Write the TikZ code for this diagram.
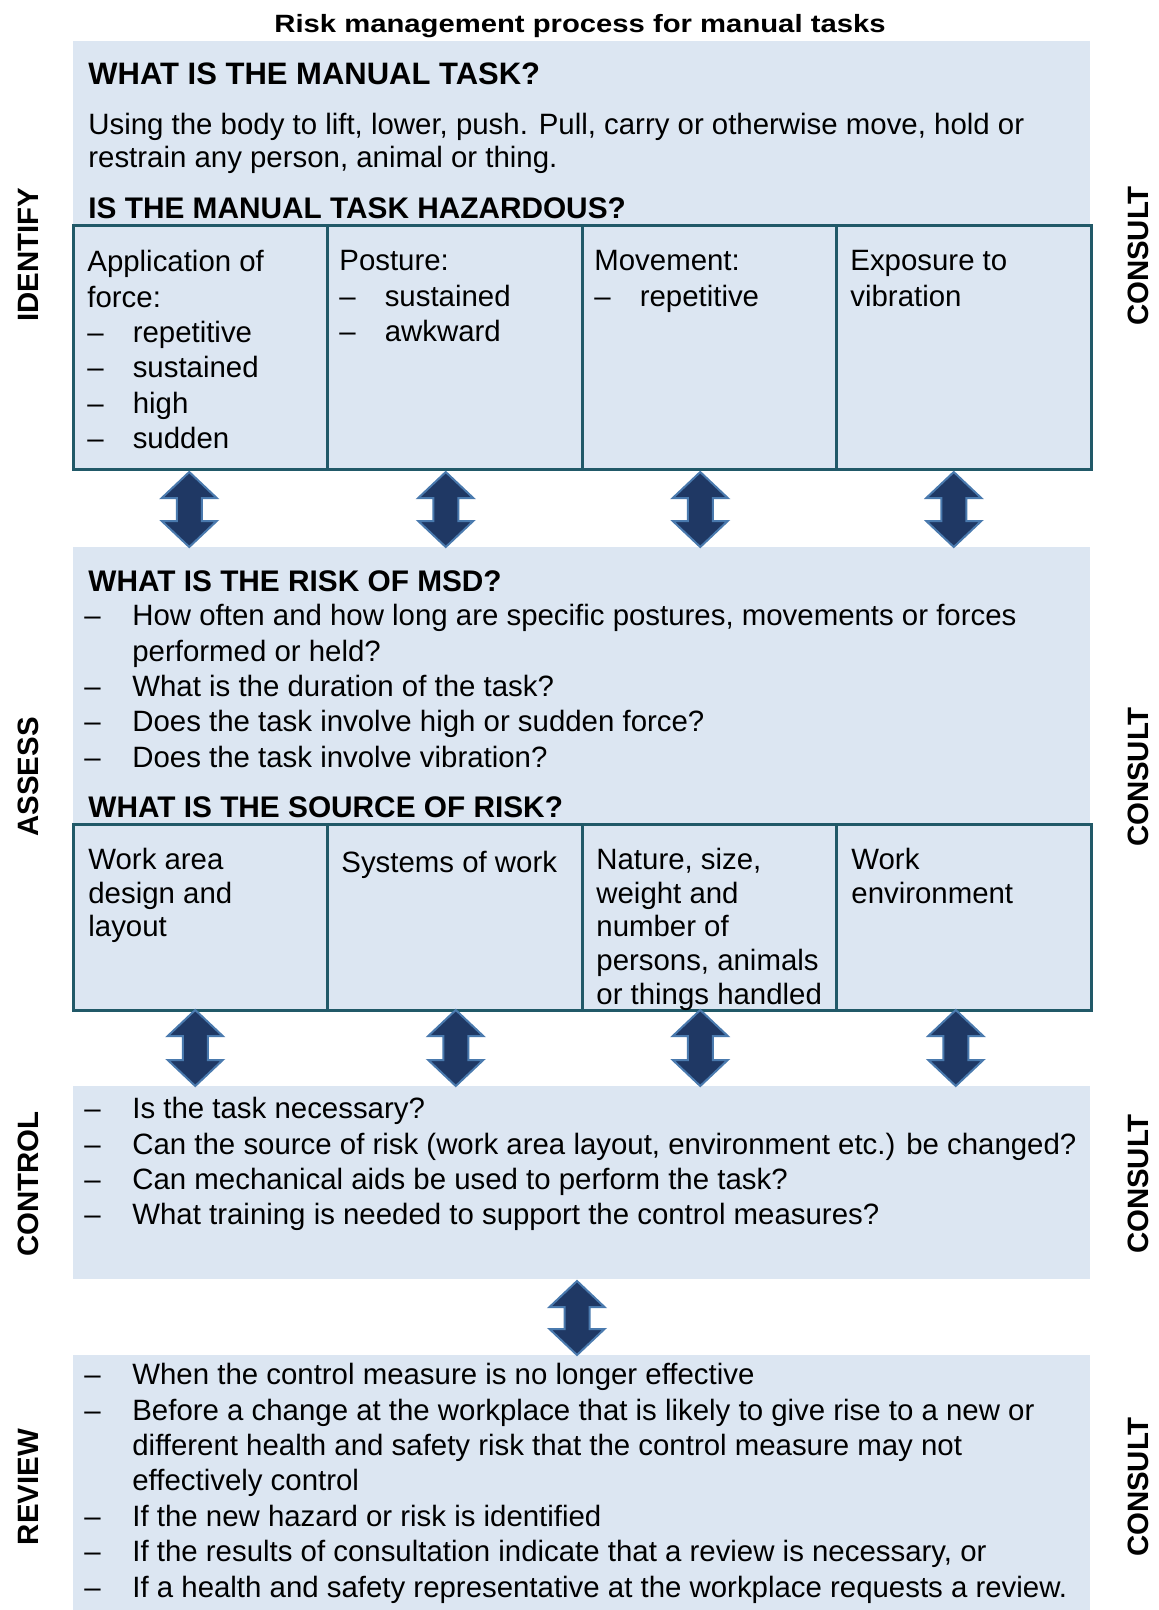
\documentclass[tikz,border=0pt]{standalone}
\usepackage{fontspec}
\setmainfont{Liberation Sans}
\usetikzlibrary{positioning}
\usetikzlibrary{calc}
\definecolor{panelblue}{HTML}{DCE6F2}
\definecolor{cellline}{HTML}{215968}
\definecolor{arrowfill}{HTML}{1F3864}
\definecolor{arrowline}{HTML}{4A7AAE}
\newcommand\bodyfont{\fontsize{14.7}{17.7}\selectfont}
\newcommand\dsh{\makebox[24pt][l]{–}}
\newcommand\cdsh{\makebox[22.7pt][l]{–}}
\newcommand\hang{\hspace*{24pt}}
% double headed block arrow from tip #1 down to tip #2
\newcommand\updown[2]{%
  \filldraw[bigarrow] (#1) -- ++(27.5,26) -- ++(-15,0) -- ($(#2)+(12.5,-26)$)
    -- ++(15,0) -- (#2) -- ++(-27.5,-26) -- ++(15,0) -- ($(#1)+(-12.5,26)$)
    -- ++(-15,0) -- cycle;}
\tikzset{
    panel/.style = {rectangle, fill=panelblue, inner sep=0, outer sep=0, minimum width=508.5pt, anchor=north west},
    cell/.style = {rectangle, draw=cellline, line width=1.5pt, fill=panelblue, inner sep=0, outer sep=0, minimum width=127.25pt, anchor=north west},
    txt/.style = {align=left, anchor=north west, yshift=12pt, inner sep=0, font=\bodyfont,
                  execute at begin node={\rule{0pt}{12pt}}},
    srctxt/.style = {txt, font=\fontsize{14.7}{16.8}\selectfont},
    head/.style = {txt, font=\fontsize{14.9}{17.7}\selectfont\bfseries},
    side/.style = {rotate=90, inner sep=0, font=\bodyfont\bfseries},
    bigarrow/.style = {fill=arrowfill, draw=arrowline, line width=1pt, line join=miter}
}
\begin{document}
\begin{tikzpicture}[x=0.5pt, y=-0.5pt]
  \useasboundingbox (0,0) rectangle (1158,1610);

  \node[anchor=base, inner sep=0] (title) at (580,33)
    {\scalebox{1.17}[1]{\fontsize{12.5}{15}\selectfont\bfseries Risk management process for manual tasks}};

  % panels
  \node[panel, minimum height=214.5pt] (identify) at (73,41) {};
  \node[panel, minimum height=231.5pt] (assess) at (73,547) {};
  \node[panel, minimum height=96.5pt] (control) at (73,1086) {};
  \node[panel, minimum height=127.5pt] (review) at (73,1355) {};

  % identify
  \node[head, font=\fontsize{15.5}{17.7}\selectfont\bfseries] (q1) at (88,84) {WHAT IS THE MANUAL TASK?};
  \node[txt, font=\fontsize{14.7}{16.6}\selectfont] (def) at (88,137) {Using the body to lift, lower, push. Pull, carry or otherwise move, hold or\\
    restrain any person, animal or thing.};
  \node[head] (q2) at (88,218) {IS THE MANUAL TASK HAZARDOUS?};
  \node[cell, minimum height=121.5pt] (hz1) at (73,226) {};
  \node[cell, minimum height=121.5pt, right=0pt of hz1] (hz2) {};
  \node[cell, minimum height=121.5pt, right=0pt of hz2] (hz3) {};
  \node[cell, minimum height=121.5pt, right=0pt of hz3] (hz4) {};
  \node[txt] (force) at (87,274) {Application of\\force:\\\cdsh repetitive\\\cdsh sustained\\\cdsh high\\\cdsh sudden};
  \node[txt] (posture) at (339,274) {Posture:\\\cdsh sustained\\\cdsh awkward};
  \node[txt] (movement) at (594,274) {Movement:\\\cdsh repetitive};
  \node[txt] (vibration) at (850,274) {Exposure to\\vibration};

  % assess
  \node[head] (q3) at (88,591) {WHAT IS THE RISK OF MSD?};
  \node[txt] (msd) at (84,628) {\dsh How often and how long are specific postures, movements or forces\\
    \hang performed or held?\\
    \dsh What is the duration of the task?\\
    \dsh Does the task involve high or sudden force?\\
    \dsh Does the task involve vibration?};
  \node[head] (q4) at (88,817) {WHAT IS THE SOURCE OF RISK?};
  \node[cell, minimum height=93pt] (src1) at (73,824) {};
  \node[cell, minimum height=93pt, right=0pt of src1] (src2) {};
  \node[cell, minimum height=93pt, right=0pt of src2] (src3) {};
  \node[cell, minimum height=93pt, right=0pt of src3] (src4) {};
  \node[srctxt] (layout) at (88,872) {Work area\\design and\\layout};
  \node[srctxt] (systems) at (341,872) {Systems of work};
  \node[srctxt] (loads) at (596,872) {Nature, size,\\weight and\\number of\\persons, animals\\or things handled};
  \node[srctxt] (environ) at (851,872) {Work\\environment};

  % control
  \node[txt] (ctrl) at (84,1121) {\dsh Is the task necessary?\\
    \dsh Can the source of risk (work area layout, environment etc.) be changed?\\
    \dsh Can mechanical aids be used to perform the task?\\
    \dsh What training is needed to support the control measures?};

  % review
  \node[txt] (rev) at (84,1387) {\dsh When the control measure is no longer effective\\
    \dsh Before a change at the workplace that is likely to give rise to a new or\\
    \hang different health and safety risk that the control measure may not\\
    \hang effectively control\\
    \dsh If the new hazard or risk is identified\\
    \dsh If the results of consultation indicate that a review is necessary, or\\
    \dsh If a health and safety representative at the workplace requests a review.};

  % side labels
  \node[side] (l1) at (28,255) {IDENTIFY};
  \node[side] (l2) at (28,777) {ASSESS};
  \node[side] (l3) at (28,1184) {CONTROL};
  \node[side] (l4) at (28,1487) {REVIEW};
  \foreach \y/\n in {256/1,777/2,1184/3,1487/4}
    \node[side] (c\n) at (1138,\y) {CONSULT};

  % arrows
  \foreach \n/\dx in {1/-5.5,2/-4.5,3/-4.5,4/-5}{
    \coordinate (t\n) at ([xshift=\dx pt, yshift=-1.5pt]hz\n.south);
    \coordinate (b\n) at (t\n |- assess.north);
    \updown{t\n}{b\n}
  }
  \foreach \n/\dx in {1/-2.5,2/0.5,3/-4.5,4/-4}{
    \coordinate (u\n) at ([xshift=\dx pt]src\n.south);
    \coordinate (d\n) at (u\n |- control.north);
    \updown{u\n}{d\n}
  }
  \coordinate (u5) at ([xshift=-2.25pt, yshift=-1pt]control.south);
  \coordinate (d5) at (u5 |- review.north);
  \updown{u5}{d5}

\end{tikzpicture}
\end{document}
